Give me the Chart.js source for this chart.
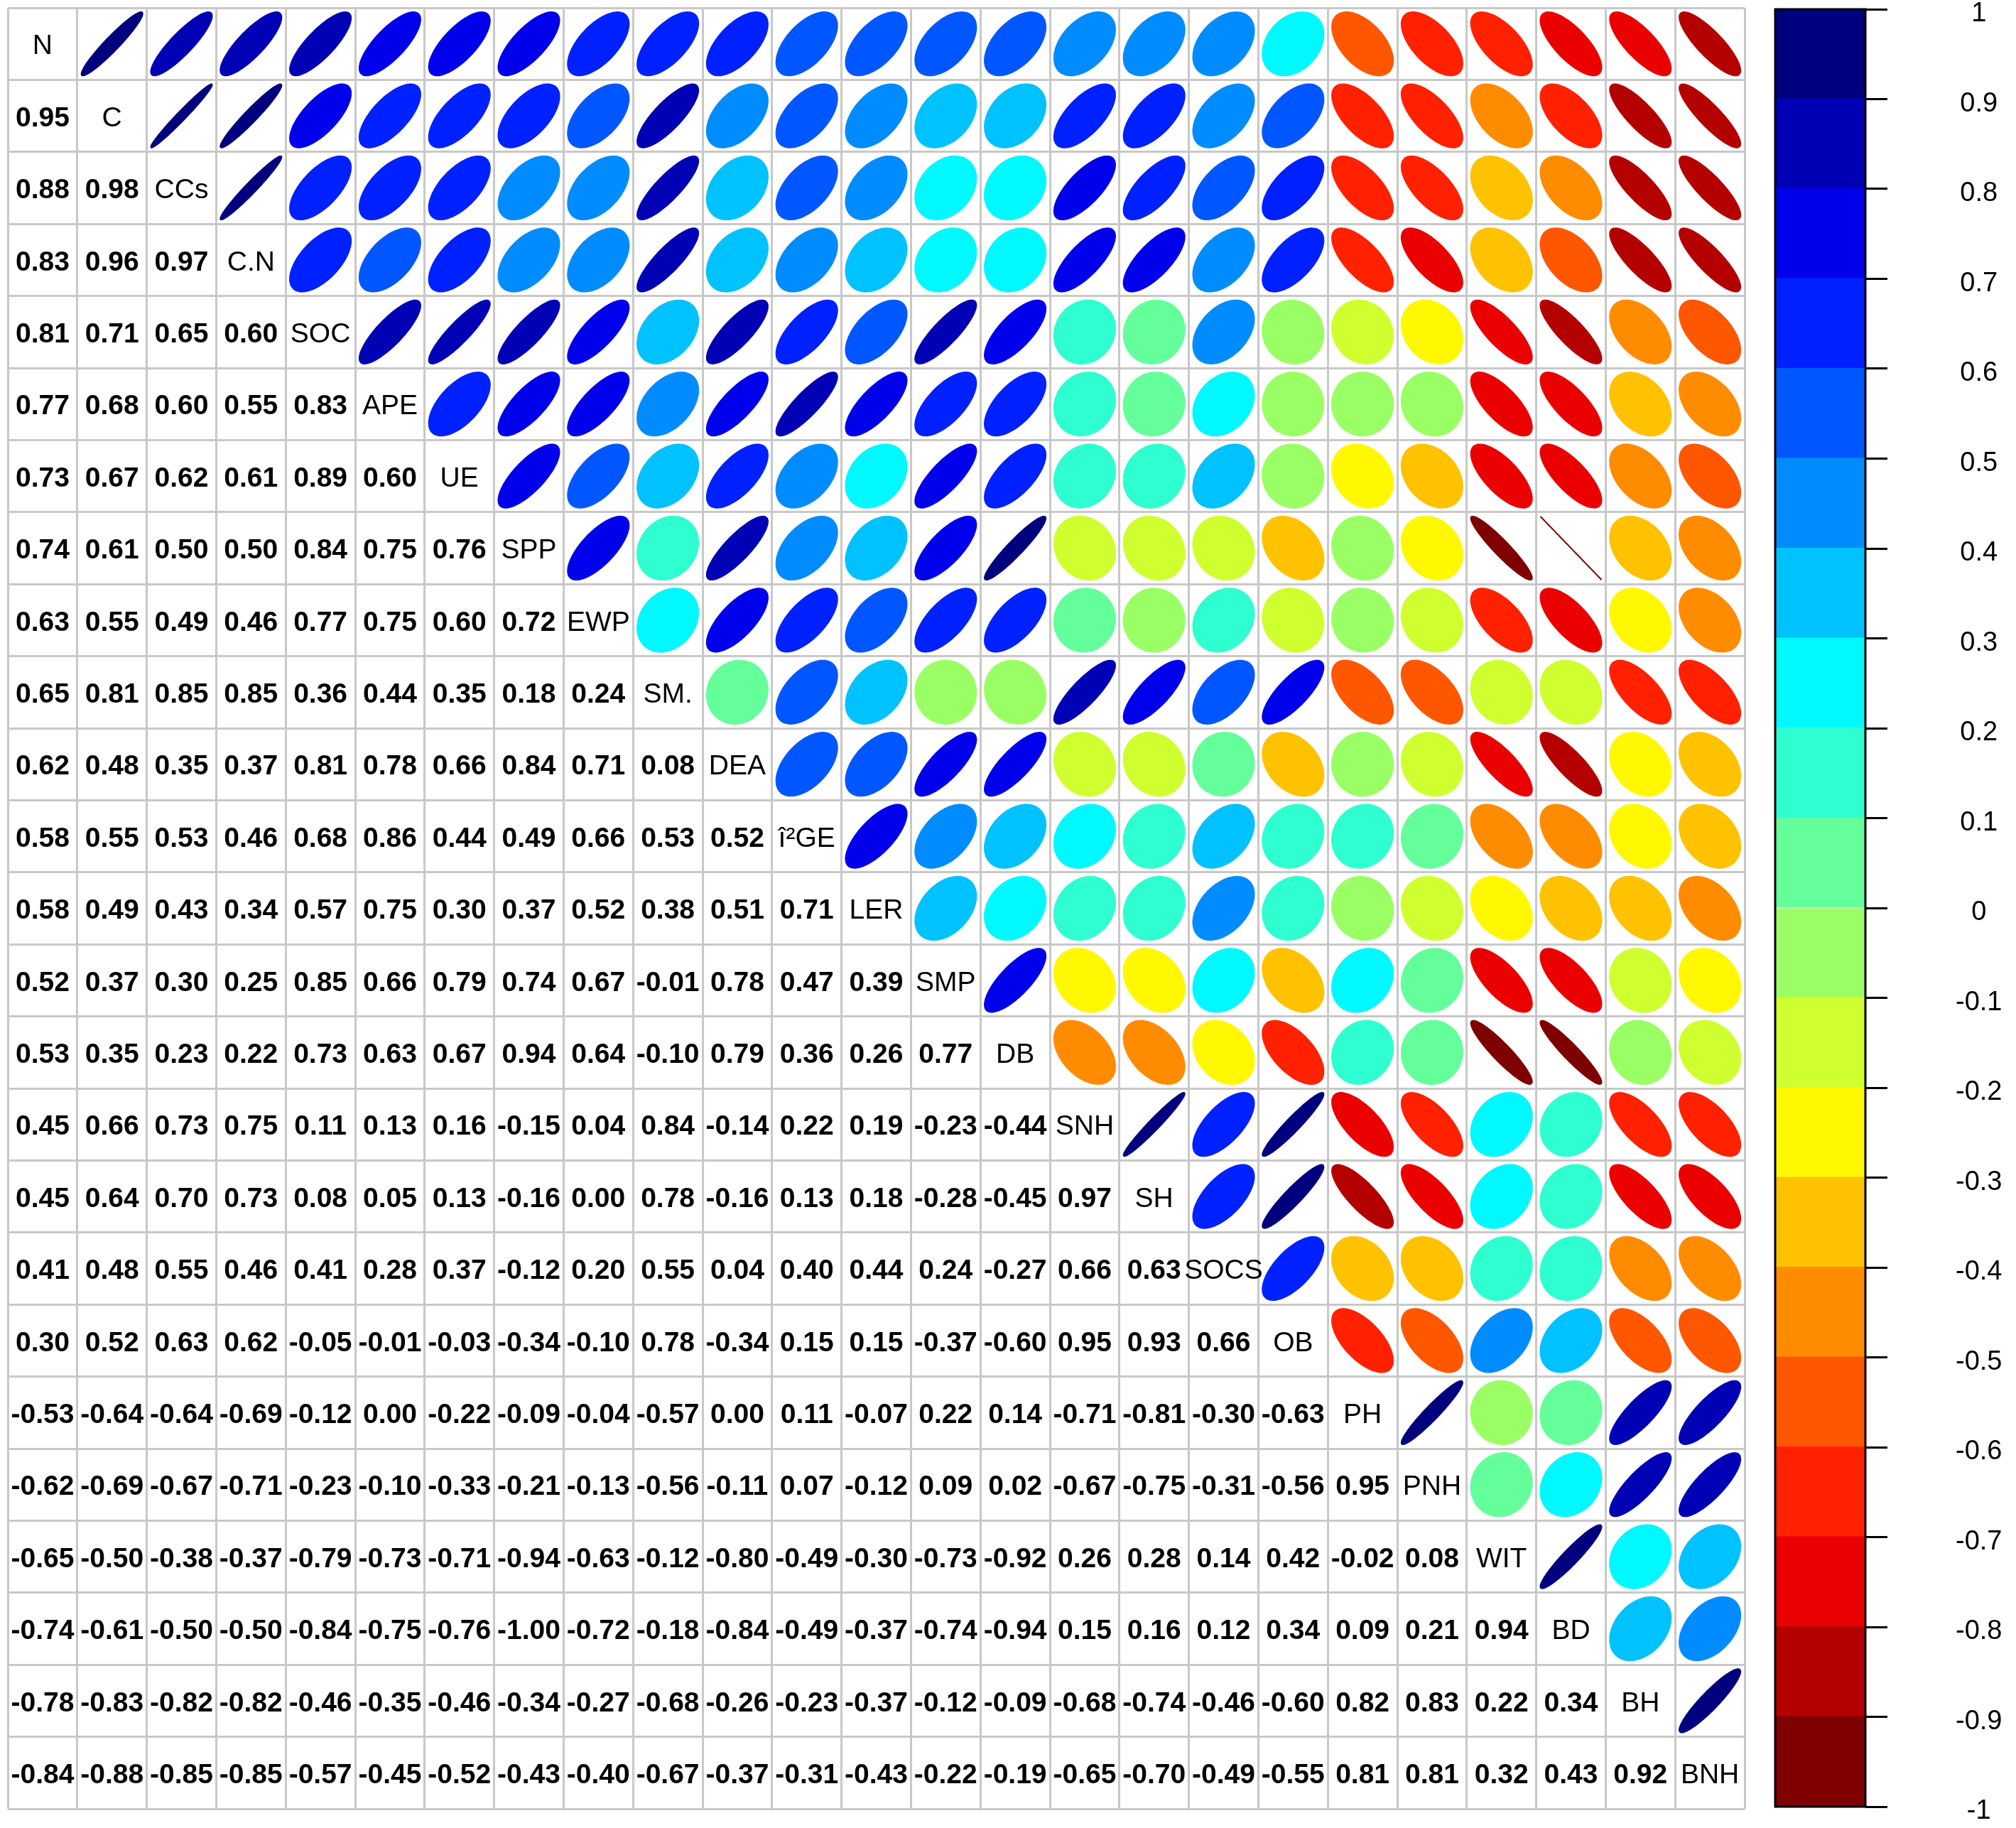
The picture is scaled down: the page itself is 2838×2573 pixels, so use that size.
<!DOCTYPE html>
<html>
<head>
<meta charset="utf-8">
<title>Correlation matrix</title>
<script src="https://cdn.jsdelivr.net/npm/chart.js@4.4.1/dist/chart.umd.min.js"></script>
<style>
  html, body { margin: 0; padding: 0; background: #fff; }
  #wrap { position: relative; width: 2838px; height: 2573px; }
  #corr { position: absolute; left: 0; top: 0; width: 2838px; height: 2573px; }
  #bar  { position: absolute; left: 2460px; top: 0; width: 378px; height: 2573px; }
</style>
</head>
<body>
<div id="wrap">
  <canvas id="corr" width="2838" height="2573"></canvas>
  <canvas id="bar" width="378" height="2573"></canvas>
</div>
<script>
/* ── Variables (matrix order) ── */
const VARS = ['N', 'C', 'CCs', 'C.N', 'SOC', 'APE', 'UE', 'SPP', 'EWP', 'SM.', 'DEA', 'î²GE', 'LER',
              'SMP', 'DB', 'SNH', 'SH', 'SOCS', 'OB', 'PH', 'PNH', 'WIT', 'BD', 'BH', 'BNH'];

/* ── Lower triangle: correlations of each variable with the ones before it ── */
const rowC    = [0.95];
const rowCCs  = [0.88, 0.98];
const rowCN   = [0.83, 0.96, 0.97];
const rowSOC  = [0.81, 0.71, 0.65, 0.603];
const rowAPE  = [0.77, 0.68, 0.603, 0.55, 0.83];
const rowUE   = [0.73, 0.67, 0.62, 0.61, 0.89, 0.603];
const rowSPP  = [0.74, 0.61, 0.50, 0.50, 0.84, 0.75, 0.76];
const rowEWP  = [0.63, 0.55, 0.49, 0.46, 0.77, 0.75, 0.60, 0.72];
const rowSM   = [0.65, 0.81, 0.85, 0.85, 0.36, 0.44, 0.35, 0.18, 0.24];
const rowDEA  = [0.62, 0.48, 0.35, 0.37, 0.81, 0.78, 0.66, 0.84, 0.71, 0.08];
const rowBGE  = [0.58, 0.55, 0.53, 0.46, 0.68, 0.86, 0.44, 0.49, 0.66, 0.53, 0.52];
const rowLER  = [0.58, 0.49, 0.43, 0.34, 0.57, 0.75, 0.30, 0.37, 0.52, 0.38, 0.51, 0.71];
const rowSMP  = [0.52, 0.37, 0.30, 0.25, 0.85, 0.66, 0.79, 0.74, 0.67, -0.01, 0.78, 0.47, 0.39];
const rowDB   = [0.53, 0.35, 0.23, 0.22, 0.73, 0.63, 0.67, 0.94, 0.64, -0.097, 0.79, 0.36, 0.26, 0.77];
const rowSNH  = [0.45, 0.66, 0.73, 0.75, 0.11, 0.13, 0.16, -0.15, 0.04, 0.84, -0.14, 0.22, 0.19, -0.23, -0.44];
const rowSH   = [0.45, 0.64, 0.70, 0.73, 0.08, 0.05, 0.13, -0.16, 0.00, 0.78, -0.16, 0.13, 0.18, -0.28, -0.45, 0.97];
const rowSOCS = [0.41, 0.48, 0.55, 0.46, 0.41, 0.28, 0.37, -0.12, 0.20, 0.55, 0.04, 0.40, 0.44, 0.24, -0.27, 0.66, 0.63];
const rowOB   = [0.30, 0.52, 0.63, 0.62, -0.05, -0.01, -0.03, -0.34, -0.10, 0.78, -0.34, 0.15, 0.15, -0.37, -0.60, 0.95, 0.93, 0.66];
const rowPH   = [-0.53, -0.64, -0.64, -0.69, -0.12, 0.00, -0.22, -0.09, -0.04, -0.57, 0.00, 0.11, -0.07, 0.22, 0.14, -0.71, -0.81, -0.30, -0.63];
const rowPNH  = [-0.62, -0.69, -0.67, -0.71, -0.23, -0.097, -0.33, -0.21, -0.13, -0.56, -0.11, 0.07, -0.12, 0.09, 0.02, -0.67, -0.75, -0.31, -0.56, 0.95];
const rowWIT  = [-0.65, -0.497, -0.38, -0.37, -0.79, -0.73, -0.71, -0.94, -0.63, -0.12, -0.797, -0.49, -0.297, -0.73, -0.92, 0.26, 0.28, 0.14, 0.42, -0.02, 0.08];
const rowBD   = [-0.74, -0.61, -0.497, -0.50, -0.84, -0.75, -0.76, -1.00, -0.72, -0.18, -0.84, -0.49, -0.37, -0.74, -0.94, 0.15, 0.16, 0.12, 0.34, 0.09, 0.21, 0.94];
const rowBH   = [-0.78, -0.83, -0.82, -0.82, -0.46, -0.35, -0.46, -0.34, -0.27, -0.68, -0.26, -0.23, -0.37, -0.12, -0.09, -0.68, -0.74, -0.46, -0.596, 0.82, 0.83, 0.22, 0.34];
const rowBNH  = [-0.84, -0.88, -0.85, -0.85, -0.57, -0.45, -0.52, -0.43, -0.40, -0.67, -0.37, -0.31, -0.43, -0.22, -0.19, -0.65, -0.70, -0.49, -0.55, 0.81, 0.81, 0.32, 0.43, 0.92];

const lowerRows = [rowC, rowCCs, rowCN, rowSOC, rowAPE, rowUE, rowSPP, rowEWP, rowSM, rowDEA, rowBGE, rowLER,
                   rowSMP, rowDB, rowSNH, rowSH, rowSOCS, rowOB, rowPH, rowPNH, rowWIT, rowBD, rowBH, rowBNH];

/* ── Colour legend ── */
const colorBreaks = [-1, -0.9, -0.8, -0.7, -0.6, -0.5, -0.4, -0.3, -0.2, -0.1, 0,
                     0.1, 0.2, 0.3, 0.4, 0.5, 0.6, 0.7, 0.8, 0.9, 1];
const colorTickLabels = ['-1', '-0.9', '-0.8', '-0.7', '-0.6', '-0.5', '-0.4', '-0.3', '-0.2', '-0.1', '0',
                         '0.1', '0.2', '0.3', '0.4', '0.5', '0.6', '0.7', '0.8', '0.9', '1'];
const rampAnchors = ['#7F0000', '#FF0000', '#FF7F00', '#FFFF00', '#7FFF7F', '#00FFFF', '#007FFF', '#0000FF', '#00007F'];

/* ── Style ── */
const GRID_COLOR = '#C8C8C8';
const FONT_FAMILY = '"Liberation Sans", Arial, sans-serif';
const NUM_FONT = 'bold 39px ' + FONT_FAMILY;
const LAB_FONT = '39px ' + FONT_FAMILY;
const ELL_SCALE = 0.88;

/* ── colour ramp, same idea as R's colorRampPalette ── */
function hexRgb(h) {
  return [parseInt(h.slice(1, 3), 16), parseInt(h.slice(3, 5), 16), parseInt(h.slice(5, 7), 16)];
}
function ramp(anchors, n) {
  const cols = anchors.map(hexRgb);
  const out = [];
  for (let i = 0; i < n; i++) {
    const t = i / (n - 1) * (cols.length - 1);
    const k = Math.min(Math.floor(t), cols.length - 2);
    const f = t - k;
    const c = cols[k].map((v, m) => Math.round(v + (cols[k + 1][m] - v) * f));
    out.push(`rgb(${c[0]}, ${c[1]}, ${c[2]})`);
  }
  return out;
}
const palette = ramp(rampAnchors, colorBreaks.length - 1);

function colorFor(v) {
  let idx = Math.ceil(Math.round((v + 1) * 10000) / 1000) - 1;
  idx = Math.max(0, Math.min(palette.length - 1, idx));
  return palette[idx];
}

/* ── Points for the matrix ── */
const upperPts = [], lowerPts = [], diagPts = [];
VARS.forEach((name, i) => {
  diagPts.push({ x: i + 1, y: i + 1, label: name });
  if (i === 0) return;
  lowerRows[i - 1].forEach((v, j) => {
    lowerPts.push({ x: j + 1, y: i + 1, v });
    upperPts.push({ x: i + 1, y: j + 1, v });
  });
});

const cellEdges = VARS.map((_, k) => k + 0.5).concat([VARS.length + 0.5]);

/* ── Plugin: ellipses, coefficients and names ── */
const corrMarks = {
  id: 'corrMarks',
  afterDatasetsDraw(chart) {
    const ctx = chart.ctx;
    const xs = chart.scales.x, ys = chart.scales.y;
    const cw = Math.abs(xs.getPixelForValue(2) - xs.getPixelForValue(1));
    const ch = Math.abs(ys.getPixelForValue(2) - ys.getPixelForValue(1));
    const s = ELL_SCALE / 2;

    ctx.save();
    // ellipses (upper triangle)
    chart.getDatasetMeta(0).data.forEach((pt, k) => {
      const v = upperPts[k].v;
      const a = Math.acos(Math.max(-1, Math.min(1, v)));
      const col = colorFor(v);
      ctx.beginPath();
      for (let n = 0; n <= 98; n++) {
        const t = 2 * Math.PI * n / 98;
        const ex = s * Math.cos(t + a / 2);
        const ey = s * Math.cos(t - a / 2);
        const px = pt.x + ex * cw, py = pt.y - ey * ch;
        if (n === 0) ctx.moveTo(px, py); else ctx.lineTo(px, py);
      }
      ctx.closePath();
      ctx.fillStyle = col;
      ctx.fill();
      ctx.strokeStyle = col;
      ctx.lineWidth = 2;
      ctx.stroke();
    });

    // coefficients (lower triangle)
    ctx.fillStyle = '#000';
    ctx.textAlign = 'center';
    ctx.textBaseline = 'middle';
    ctx.font = NUM_FONT;
    chart.getDatasetMeta(1).data.forEach((pt, k) => {
      ctx.fillText(lowerPts[k].v.toFixed(2), pt.x, pt.y + 4);
    });

    // variable names (diagonal)
    ctx.font = LAB_FONT;
    chart.getDatasetMeta(2).data.forEach((pt, k) => {
      ctx.fillText(diagPts[k].label, pt.x, pt.y + 4);
    });
    ctx.restore();
  }
};

const hiddenPoint = { pointRadius: 0, pointHoverRadius: 0, pointHitRadius: 0 };

new Chart(document.getElementById('corr'), {
  type: 'scatter',
  data: {
    datasets: [
      Object.assign({ label: 'ellipse', data: upperPts }, hiddenPoint),
      Object.assign({ label: 'coef', data: lowerPts }, hiddenPoint),
      Object.assign({ label: 'name', data: diagPts }, hiddenPoint),
    ],
  },
  options: {
    responsive: false,
    animation: false,
    events: [],
    layout: { padding: { left: 11, top: 11, right: 382, bottom: 27 } },
    plugins: { legend: { display: false }, tooltip: { enabled: false } },
    scales: {
      x: {
        type: 'linear', min: 0.5, max: VARS.length + 0.5,
        afterBuildTicks: sc => { sc.ticks = cellEdges.map(v => ({ value: v })); },
        afterFit: sc => { sc.height = 0; },
        ticks: { display: false },
        grid: { color: GRID_COLOR, lineWidth: 3, drawTicks: false },
        border: { display: false },
      },
      y: {
        type: 'linear', reverse: true, min: 0.5, max: VARS.length + 0.5,
        afterBuildTicks: sc => { sc.ticks = cellEdges.map(v => ({ value: v })); },
        afterFit: sc => { sc.width = 0; },
        ticks: { display: false },
        grid: { color: GRID_COLOR, lineWidth: 3, drawTicks: false },
        border: { display: false },
      },
    },
  },
  plugins: [corrMarks],
});

/* ── Colour bar ── */
const barFrame = {
  id: 'barFrame',
  afterDatasetsDraw(chart) {
    const { ctx, chartArea: a } = chart;
    ctx.save();
    ctx.strokeStyle = '#000';
    ctx.lineWidth = 3;
    ctx.strokeRect(a.left, a.top, a.right - a.left, a.bottom - a.top);
    ctx.restore();
  }
};

new Chart(document.getElementById('bar'), {
  type: 'bar',
  data: {
    labels: ['r'],
    datasets: palette.map((c, k) => ({
      data: [[colorBreaks[k], colorBreaks[k + 1]]],
      backgroundColor: c,
      borderWidth: 0,
      inflateAmount: 1,
      grouped: false,
      barPercentage: 1,
      categoryPercentage: 1,
    })),
  },
  options: {
    responsive: false,
    animation: false,
    events: [],
    layout: { padding: { left: 39, top: 13, bottom: 30, right: 0 } },
    plugins: { legend: { display: false }, tooltip: { enabled: false } },
    scales: {
      x: { display: false },
      y: {
        position: 'right', min: -1, max: 1,
        afterBuildTicks: sc => { sc.ticks = colorBreaks.map(v => ({ value: v })); },
        afterFit: sc => { sc.width = 212; sc.paddingTop = 0; sc.paddingBottom = 0; },
        ticks: {
          callback: (v, i) => colorTickLabels[i],
          color: '#000',
          font: { family: FONT_FAMILY, size: 38 },
          padding: 96,
          crossAlign: 'center',
          labelOffset: 7,
        },
        grid: { drawOnChartArea: false, drawTicks: true, tickLength: 31, color: '#000', lineWidth: 3 },
        border: { display: false },
      },
    },
  },
  plugins: [barFrame],
});
</script>
</body>
</html>
